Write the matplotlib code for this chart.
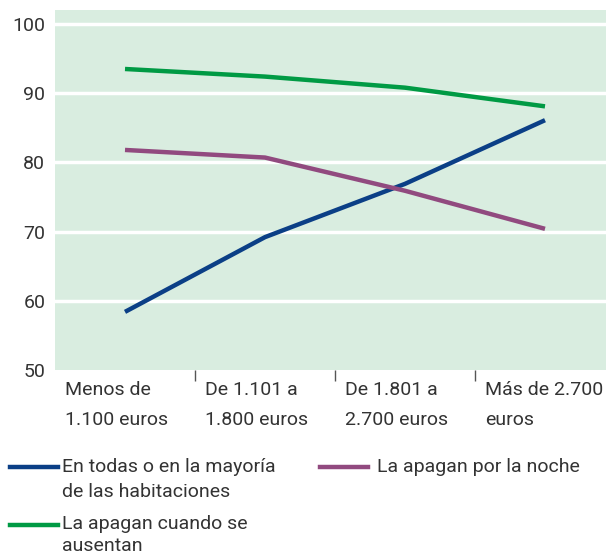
import matplotlib
matplotlib.use("Agg")
import matplotlib.pyplot as plt
from matplotlib.lines import Line2D
from matplotlib import font_manager

names = {f.name for f in font_manager.fontManager.ttflist}
fam = ["Roboto", "DejaVu Sans"]
fam = [f for f in fam if f in names] + ["DejaVu Sans"]
plt.rcParams['font.family'] = fam

categories = ["Menos de\n1.100 euros", "De 1.101 a\n1.800 euros", "De 1.801 a\n2.700 euros", "Más de 2.700\neuros"]
series_names = ["En todas o en la mayoría\nde las habitaciones", "La apagan por la noche", "La apagan cuando se\nausentan"]
todas = [58.4, 69.2, 76.9, 86.1]
noche = [81.8, 80.7, 75.9, 70.4]
ausentan = [93.5, 92.4, 90.8, 88.1]
yticks = [50, 60, 70, 80, 90, 100]

c_blue = "#0b3f86"
c_purple = "#914a7f"
c_green = "#009a44"
bg = "#d9ede0"
txt = "#333333"

W, H = 606, 555
fig = plt.figure(figsize=(W/100, H/100), dpi=100)
left, right, top, bottom = 55, 615, 10, 370
ax = fig.add_axes([left/W, 1-bottom/H, (right-left)/W, (bottom-top)/H])
ax.set_facecolor(bg)
x = list(range(len(categories)))
ax.set_xlim(-0.5, 3.5)
ax.set_ylim(50, 50 + (bottom-top)/6.92)
for y in yticks[1:]:
    ax.axhline(y, color="white", lw=2.5, zorder=1)
for vals, c in [(todas, c_blue), (noche, c_purple), (ausentan, c_green)]:
    ax.plot(x, vals, color=c, lw=3.2, zorder=3, solid_capstyle="butt")
for s in ax.spines.values():
    s.set_visible(False)
ax.set_yticks(yticks)
ax.set_yticklabels([str(v) for v in yticks])
ax.tick_params(axis="y", length=0, pad=7, labelsize=14, labelcolor=txt)
ax.set_xticks([0.5, 1.5, 2.5])
ax.set_xticklabels([])
ax.tick_params(axis="x", length=8, width=1, color="#555555", direction="out")
for i, lab in enumerate(categories):
    ax.text(i - 0.43, -0.030, lab, transform=ax.get_xaxis_transform(), ha="left", va="top",
            fontsize=14, color=txt, linespacing=1.85)

def legend_item(x0, y0, color, text, gap, dy=9, ls=1.5):
    fig.add_artist(Line2D([x0/W, (x0+48)/W], [1-y0/H, 1-y0/H], color=color, lw=3.2,
                          transform=fig.transFigure))
    fig.text((x0+48+gap)/W, 1-(y0-dy)/H, text, ha="left", va="top", fontsize=14,
             color=txt, linespacing=ls)

legend_item(10, 467, c_blue, series_names[0], 4)
legend_item(320, 467, c_purple, series_names[1], 9)
legend_item(10, 525, c_green, series_names[2], 4, dy=10, ls=1.32)

fig.savefig("out.png", dpi=100, facecolor="white")
